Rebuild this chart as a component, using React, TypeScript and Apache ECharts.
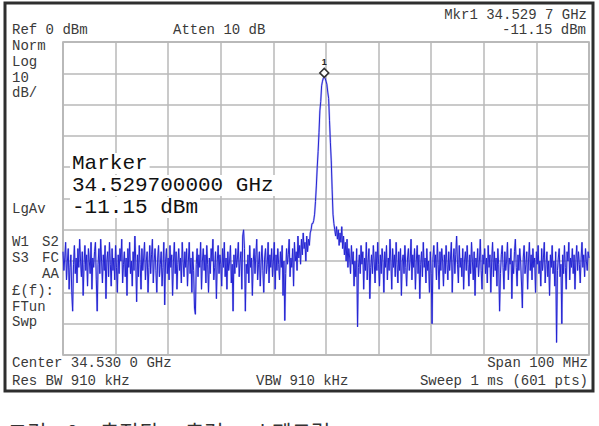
import React, { useEffect, useRef } from "react";
import * as echarts from "echarts";

// Sweep settings (MHz)
const startMHz = 34480;
const spanMHz = 100;
const yTicks = [-100, 0]; // Ref 0 dBm, 10 dB/div
const peakLevel = -11.15;

// Trace levels (dBm), 601 sweep points
const levels: number[] = [
  -67, -73, -69, -64, -76, -70, -66, -79, -72, -68, -80, -86, -71, -65, -74, -69, -77, -66, -72, -63,
  -70, -75, -67, -81, -71, -65, -73, -68, -78, -66, -70, -74, -64, -79, -69, -72, -67, -64, -76, -86,
  -71, -66, -74, -63, -70, -77, -68, -73, -65, -82, -70, -67, -75, -64, -71, -78, -66, -73, -69, -76,
  -65, -72, -80, -68, -74, -66, -70, -63, -77, -71, -67, -75, -69, -81, -66, -72, -64, -74, -70, -78,
  -67, -73, -62, -70, -83, -68, -75, -65, -71, -79, -66, -73, -69, -64, -76, -70, -67, -80, -72, -65,
  -74, -68, -63, -77, -70, -66, -73, -80, -69, -65, -75, -71, -67, -78, -72, -64, -84, -70, -66, -74,
  -69, -76, -65, -72, -68, -81, -70, -64, -74, -67, -79, -71, -66, -73, -69, -77, -64, -70, -75, -67,
  -72, -66, -78, -70, -64, -74, -69, -80, -67, -73, -85, -87, -71, -66, -75, -68, -72, -64, -79, -70,
  -66, -73, -68, -77, -65, -71, -80, -69, -74, -66, -70, -63, -76, -72, -67, -82, -70, -65, -74, -68,
  -71, -78, -66, -72, -64, -75, -69, -79, -67, -73, -70, -65, -77, -71, -86, -68, -74, -66, -72, -69,
  -64, -75, -70, -67, -79, -62, -60, -66, -86, -71, -74, -68, -77, -65, -72, -69, -81, -70, -66, -74,
  -68, -63, -76, -71, -67, -78, -70, -65, -73, -80, -69, -66, -74, -71, -64, -77, -68, -72, -66, -75,
  -70, -64, -79, -68, -73, -66, -71, -76, -67, -72, -65, -81, -70, -89, -74, -66, -71, -68, -63, -75,
  -69, -72, -66, -78, -64, -70, -67, -73, -62, -69, -65, -71, -63, -68, -61, -66, -64, -70, -62, -67,
  -63, -65, -61, -60, -58, -58, -57, -55, -51, -46, -40, -35, -29, -22, -19, -14, -12.5, -11.5, -11.15, -11.6,
  -12.5, -13.5, -16, -18, -25, -32, -38, -47, -55, -58, -60, -62, -59, -63, -60, -65, -61, -64, -59, -66,
  -62, -68, -64, -70, -63, -72, -66, -69, -74, -65, -71, -67, -78, -70, -75, -66, -91, -72, -68, -74,
  -65, -71, -67, -79, -69, -73, -64, -76, -70, -66, -82, -72, -68, -74, -65, -70, -77, -67, -73, -64,
  -71, -78, -68, -74, -66, -70, -80, -67, -72, -65, -76, -69, -73, -63, -70, -79, -66, -72, -68, -75,
  -64, -71, -77, -67, -73, -66, -81, -70, -68, -74, -65, -72, -78, -69, -66, -73, -70, -63, -76, -68,
  -72, -66, -79, -70, -65, -74, -68, -82, -71, -67, -75, -64, -72, -69, -77, -66, -73, -70, -80, -67,
  -74, -90, -69, -65, -72, -68, -76, -64, -71, -79, -67, -73, -66, -70, -78, -68, -74, -65, -71, -76,
  -67, -73, -69, -64, -80, -70, -66, -74, -68, -62, -71, -77, -65, -72, -69, -75, -66, -79, -70, -67,
  -73, -65, -71, -78, -68, -74, -64, -70, -76, -67, -81, -69, -72, -66, -75, -70, -63, -73, -79, -68,
  -71, -66, -74, -69, -77, -65, -72, -68, -80, -70, -64, -75, -67, -73, -69, -78, -66, -71, -86, -74,
  -68, -65, -72, -79, -67, -73, -70, -64, -76, -69, -71, -66, -82, -70, -74, -67, -63, -72, -78, -68,
  -73, -66, -70, -77, -85, -69, -65, -74, -71, -67, -79, -70, -64, -73, -68, -76, -66, -72, -69, -80,
  -67, -71, -65, -74, -70, -78, -66, -73, -69, -64, -77, -71, -67, -75, -70, -81, -68, -72, -65, -74,
  -70, -78, -67, -96, -73, -69, -66, -75, -71, -90, -68, -74, -65, -72, -79, -67, -70, -64, -76, -69,
  -72, -66, -74, -68, -79, -70, -65, -73, -67, -71, -77, -69, -64, -72, -68, -75, -66, -70, -73, -67,
  -69,
];

const MONO = '"Liberation Mono", "DejaVu Sans Mono", monospace';
const CJK = '"Noto Sans CJK KR", "Noto Sans", sans-serif';

const smallTexts: [string, number, number, string?][] = [
  ["Ref 0 dBm", 12, 23],
  ["Atten 10 dB", 173, 23],
  ["Norm", 12, 39],
  ["Log", 12, 55],
  ["10", 12, 71],
  ["dB/", 12, 86],
  ["LgAv", 12, 202],
  ["W1", 12, 235],
  ["S2", 42, 235],
  ["S3", 12, 251],
  ["FC", 42, 251],
  ["AA", 42, 267],
  ["£(f):", 12, 284],
  ["FTun", 12, 300],
  ["Swp", 12, 315],
  ["Center 34.530 0 GHz", 12, 356],
  ["Res BW 910 kHz", 12, 374],
  ["VBW 910 kHz", 256, 374],
  ["Mkr1 34.529 7 GHz", 587, 8, "right"],
  ["-11.15 dBm", 586, 23, "right"],
  ["Span 100 MHz", 588, 356, "right"],
  ["Sweep 1 ms (601 pts)", 588, 374, "right"],
];

const markerLines = ["Marker", "34.529700000 GHz", "-11.15 dBm"];
const captionWords: [string, number][] = [
  ["그림", 8],
  ["9.", 67],
  ["측정된", 100],
  ["출력", 185],
  ["스펙트럼", 253],
];

export default function App() {
  const ref = useRef<HTMLDivElement>(null);
  useEffect(() => {
    const chart = echarts.init(ref.current!, null, { renderer: "svg" });
    const step = spanMHz / (levels.length - 1);
    const data = levels.map((v, i) => [startMHz + i * step, v]);
    const peakIndex = levels.indexOf(peakLevel);
    const graphics: any[] = [
      {
        type: "rect",
        shape: { x: 5, y: 3, width: 588, height: 388 },
        style: { fill: "none", stroke: "#2e2e2e", lineWidth: 3 },
        z: 100,
      },
    ];
    smallTexts.forEach(([t, x, y, al]) => {
      graphics.push({
        type: "text",
        x,
        y,
        z: 100,
        style: {
          text: t,
          fill: "#3a3a3a",
          font: `14px ${MONO}`,
          textAlign: al || "left",
          textVerticalAlign: "top",
        },
      });
    });
    markerLines.forEach((t, k) => {
      graphics.push({
        type: "text",
        x: 70,
        y: 153 + k * 22,
        z: 100,
        style: {
          text: t,
          fill: "#111",
          font: `21px ${MONO}`,
          textAlign: "left",
          textVerticalAlign: "top",
          backgroundColor: "#fff",
          padding: [0, 2, 0, 2],
        },
      });
    });
    captionWords.forEach(([t, x]) => {
      graphics.push({
        type: "text",
        x,
        y: 420,
        z: 100,
        style: {
          text: t,
          fill: "#333",
          font: `21px ${CJK}`,
          textAlign: "left",
          textVerticalAlign: "top",
        },
      });
    });

    chart.setOption({
      animation: false,
      backgroundColor: "#fff",
      grid: {
        left: 63,
        top: 42,
        width: 526,
        height: 313,
        show: true,
        borderColor: "#a8a8a8",
        borderWidth: 1.5,
      },
      xAxis: {
        type: "value",
        min: startMHz,
        max: startMHz + spanMHz,
        interval: spanMHz / 10,
        axisLabel: { show: false },
        axisTick: { show: false },
        axisLine: { show: false },
        splitLine: { show: true, lineStyle: { color: "#b8b8b8", width: 1.5 } },
      },
      yAxis: {
        type: "value",
        min: yTicks[0],
        max: yTicks[1],
        interval: 10,
        axisLabel: { show: false },
        axisTick: { show: false },
        axisLine: { show: false },
        splitLine: { show: true, lineStyle: { color: "#b8b8b8", width: 1.5 } },
      },
      series: [
        {
          type: "line",
          data,
          showSymbol: false,
          silent: true,
          lineStyle: { color: "rgba(120,120,235,0.45)", width: 2 },
          z: 2,
        },
        {
          type: "line",
          data,
          showSymbol: false,
          silent: true,
          lineStyle: { color: "#2424d2", width: 1 },
          z: 3,
          markPoint: {
            silent: true,
            symbol: "diamond",
            symbolSize: 9,
            symbolOffset: [0, -4],
            itemStyle: { color: "#fff", borderColor: "#333", borderWidth: 1.5 },
            label: {
              show: true,
              position: "top",
              distance: 1,
              formatter: "1",
              fontSize: 9,
              fontWeight: "bold",
              color: "#222",
            },
            data: [{ coord: [startMHz + peakIndex * step, peakLevel] }],
          },
        },
      ],
      graphic: graphics,
    });
    return () => chart.dispose();
  }, []);
  return (
    <div
      ref={ref}
      style={{ position: "absolute", left: 0, top: 0, width: 599, height: 426 }}
    />
  );
}
